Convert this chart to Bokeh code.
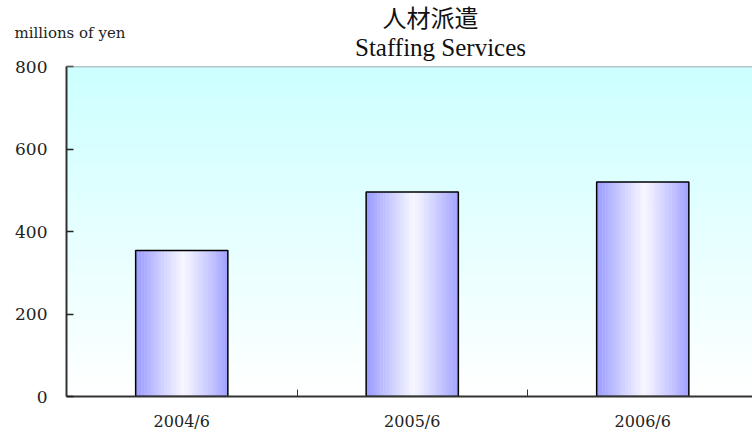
from bokeh.plotting import figure
from bokeh.models import Range1d, FixedTicker, Label, Span
from bokeh.embed import file_html
from bokeh.resources import INLINE

# ---- data ----
categories = ["2004/6", "2005/6", "2006/6"]
values = [354, 496, 520]
y_ticks = [0, 200, 400, 600, 800]
title_ja = "人材派遣"
title_en = "Staffing Services"
unit_label = "millions of yen"

Y_MAX = 800
X_END = 686 / 230.5   # visible part of the three category slots
BAR_W = 0.40

def lerp_hex(c1, c2, t):
    a = [int(c1[i:i + 2], 16) for i in (1, 3, 5)]
    b = [int(c2[i:i + 2], 16) for i in (1, 3, 5)]
    return "#%02x%02x%02x" % tuple(round(a[k] + (b[k] - a[k]) * t) for k in range(3))

p = figure(frame_width=686, frame_height=330, output_backend="svg", toolbar_location=None,
           x_range=Range1d(0, X_END), y_range=Range1d(0, Y_MAX),
           min_border_left=66, min_border_right=0, min_border_top=66, min_border_bottom=42)
p.outline_line_color = None
p.background_fill_color = "white"
p.border_fill_color = "white"

# background gradient (cyan at top -> white at bottom)
NB = 60
bl, bt, bc = [], [], []
for i in range(NB):
    y0 = Y_MAX * i / NB
    y1 = Y_MAX * (i + 1) / NB
    bl.append(y0)
    bt.append(y1 + 1)
    bc.append(lerp_hex("#ffffff", "#ccffff", (i + 0.5) / NB))
p.quad(left=0, right=X_END, bottom=bl, top=bt, fill_color=bc, line_color=None)

# grid
p.xgrid.grid_line_color = None
p.ygrid.grid_line_color = "#7f7f7f"
p.ygrid.grid_line_dash = "4 3"
p.ygrid.grid_line_width = 1
p.add_layout(Span(location=Y_MAX, dimension="width", line_color="#8a8a8a", line_width=1.5))

# bars with horizontal gradient
NS = 32
sx, sw, sh, sc = [], [], [], []
for ci, v in enumerate(values):
    cx = ci + 0.5
    for k in range(NS):
        t = (k + 0.5) / NS
        d = min(abs(t - 0.52) / 0.52, 1.0)
        col = lerp_hex("#f6f6ff", "#9999ff", d ** 1.1)
        sx.append(cx - BAR_W / 2 + (k + 0.5) * BAR_W / NS)
        sw.append(BAR_W / NS * 1.15)
        sh.append(v)
        sc.append(col)
p.vbar(x=sx, width=sw, top=sh, bottom=0, fill_color=sc, line_color=None)
p.vbar(x=[i + 0.5 for i in range(len(values))], width=BAR_W, top=values, bottom=0,
       fill_color=None, line_color="black", line_width=1.5)

# axes
p.yaxis.ticker = FixedTicker(ticks=y_ticks)
p.yaxis.major_label_text_font = "DejaVu Serif"
p.yaxis.major_label_text_font_size = "17px"
p.yaxis.major_label_text_color = "#222222"
p.yaxis.major_tick_out = 0
p.yaxis.major_tick_in = 7
p.yaxis.major_tick_line_width = 1.5
p.yaxis.minor_tick_line_color = None
p.yaxis.major_label_standoff = 19
p.yaxis.axis_line_color = "#333333"
p.yaxis.axis_line_width = 2
p.yaxis.major_tick_line_color = "#222222"

p.xaxis.ticker = FixedTicker(ticks=[i + 0.5 for i in range(len(categories))],
                             minor_ticks=[i for i in range(1, len(categories))])
p.xaxis.major_label_overrides = {i + 0.5: c for i, c in enumerate(categories)}
p.xaxis.major_label_text_font = "DejaVu Serif"
p.xaxis.major_label_text_font_size = "16px"
p.xaxis.major_label_text_color = "#222222"
p.xaxis.major_tick_line_color = None
p.xaxis.minor_tick_line_color = "#333333"
p.xaxis.minor_tick_in = 7
p.xaxis.minor_tick_out = 0
p.xaxis.major_label_standoff = 9
p.xaxis.axis_line_color = "#333333"
p.xaxis.axis_line_width = 2

# titles (placed in side panels so they are not clipped by the frame;
# positions follow the frame's scales)
p.add_layout(Label(x=(430 - 66) / 230.5, y=Y_MAX, y_offset=50, text=title_ja,
                   text_align="center", text_baseline="alphabetic",
                   text_font="Noto Sans CJK JP", text_font_size="24px", text_color="#111111"), "above")
p.add_layout(Label(x=(440 - 66) / 230.5, y=Y_MAX, y_offset=19, text=title_en,
                   text_align="center", text_baseline="alphabetic",
                   text_font="Liberation Serif", text_font_size="25px", text_color="#111111"), "above")
p.add_layout(Label(x=(14 - 66) / 230.5, y=Y_MAX, y_offset=34, text=unit_label,
                   text_align="left", text_baseline="alphabetic",
                   text_font="DejaVu Serif", text_font_size="15px", text_color="#222222"), "below")

open("out.html", "w").write(file_html(p, INLINE))
